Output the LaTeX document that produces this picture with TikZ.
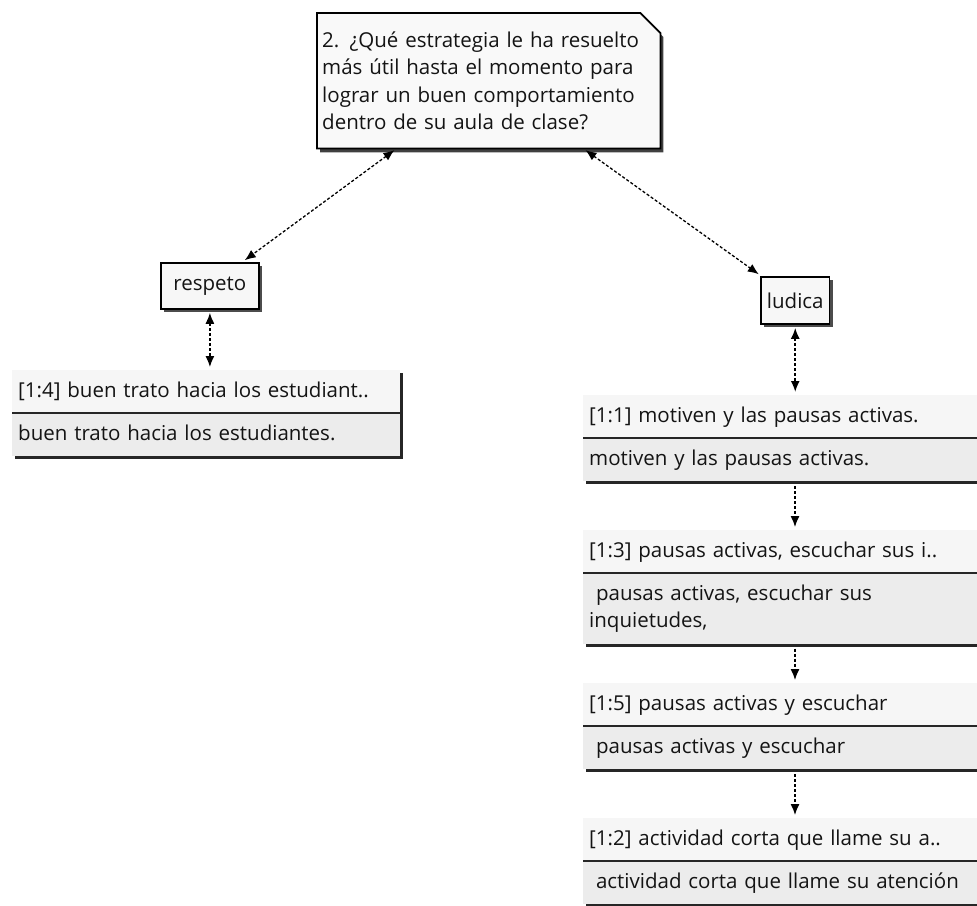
\documentclass[tikz,border=0pt]{standalone}
\usepackage{fontspec}
\setmainfont{Open Sans}
\usetikzlibrary{arrows.meta,shapes.multipart,shadows,backgrounds}
\begin{document}
\begin{tikzpicture}
  [x=1pt,y=-1pt,every node/.style={font=\fontsize{20.5}{27.5}\selectfont,text=black!92,inner sep=6pt}]
  \tikzstyle{question} = [align=left,inner xsep=5pt]
  \tikzstyle{code} = [draw,line width=1.8pt,fill=gray!6,drop shadow={shadow xshift=3pt,shadow yshift=-3pt,fill=black!70,opacity=1}]
  \tikzstyle{quote} = [rectangle split,rectangle split parts=2,inner ysep=7.5pt,align=left]
  \tikzstyle{link} = [dash pattern=on 3pt off 2pt,{Latex[length=11pt,width=9pt]}-{Latex[length=11pt,width=9pt]},line width=1.3pt,shorten <=3pt,shorten >=3pt]
  \tikzstyle{flow} = [dash pattern=on 3pt off 2pt,-{Latex[length=11pt,width=9pt]},line width=1.3pt,shorten <=5pt,shorten >=3pt]
  \useasboundingbox (0,0) rectangle (977,905);
  \clip (0,0) rectangle (977,905);

  \node[question,anchor=north west,text width=333pt,minimum height=135pt] (q) at (317,13)
    {2. ¿Qué estrategia le ha resuelto\\más útil hasta el momento para\\lograr un buen comportamiento\\dentro de su aula de clase?\\[-8pt]};
  \node[code,anchor=north west,minimum width=98pt,minimum height=46pt] (respeto) at (160,262) {respeto};
  \node[code,anchor=north west,minimum width=64pt,minimum height=47pt] (ludica) at (760,276) {ludica};

  \node[quote,anchor=north west,text width=376pt] (q14) at (12,370)
    {\strut[1:4] buen trato hacia los estudiant..\nodepart{two}\strut buen trato hacia los estudiantes.};
  \node[quote,anchor=north west,text width=420pt] (q11) at (583,395)
    {\strut[1:1] motiven y las pausas activas.\nodepart{two}\strut motiven y las pausas activas.};
  \node[quote,anchor=north west,text width=420pt] (q13) at (583,530)
    {\strut[1:3] pausas activas, escuchar sus i..\nodepart{two}\strut~pausas activas, escuchar sus\\\strut inquietudes,};
  \node[quote,anchor=north west,text width=420pt] (q15) at (583,683)
    {\strut[1:5] pausas activas y escuchar\nodepart{two}\strut~pausas activas y escuchar};
  \node[quote,anchor=north west,text width=420pt] (q12) at (583,818)
    {\strut[1:2] actividad corta que llame su a..\nodepart{two}\strut~actividad corta que llame su atención};

  \begin{scope}[on background layer]
    % question box with folded corner
    \fill[black!75] ([shift={(3pt,-4pt)}]q.north west) -- ([shift={(-17pt,-4pt)}]q.north east)
      -- ([shift={(3pt,-24pt)}]q.north east) -- ([shift={(3pt,-4pt)}]q.south east) -- ([shift={(3pt,-4pt)}]q.south west) -- cycle;
    \draw[line width=1.8pt,fill=gray!5] (q.north west) -- ([xshift=-20pt]q.north east)
      -- ([yshift=-20pt]q.north east) -- (q.south east) -- (q.south west) -- cycle;
    \foreach \n in {q14,q11,q13,q15,q12} {
      \fill[black!85] ([shift={(3pt,-3pt)}]\n.south west) rectangle ([shift={(3pt,-3pt)}]\n.north east);
      \fill[gray!7] (\n.north west) rectangle (\n.text split east);
      \fill[gray!15] (\n.text split west) rectangle (\n.south east);
    }
  \end{scope}
  \foreach \n in {q14,q11,q13,q15,q12}
    \draw[line width=1.8pt,black!85] (\n.text split west) -- (\n.text split east);

  \coordinate (spine) at (795,0);
  \draw[link] (q) -- (respeto);
  \draw[link] (q) -- (ludica);
  \draw[link] (respeto.south) -- (respeto.south |- q14.north);
  \draw[link,line width=1.8pt] (ludica.south) -- (ludica.south |- q11.north);
  \foreach \source/\dest in {q11/q13,q13/q15,q15/q12}
    \draw[flow] (spine |- \source.south) -- (spine |- \dest.north);
\end{tikzpicture}
\end{document}
